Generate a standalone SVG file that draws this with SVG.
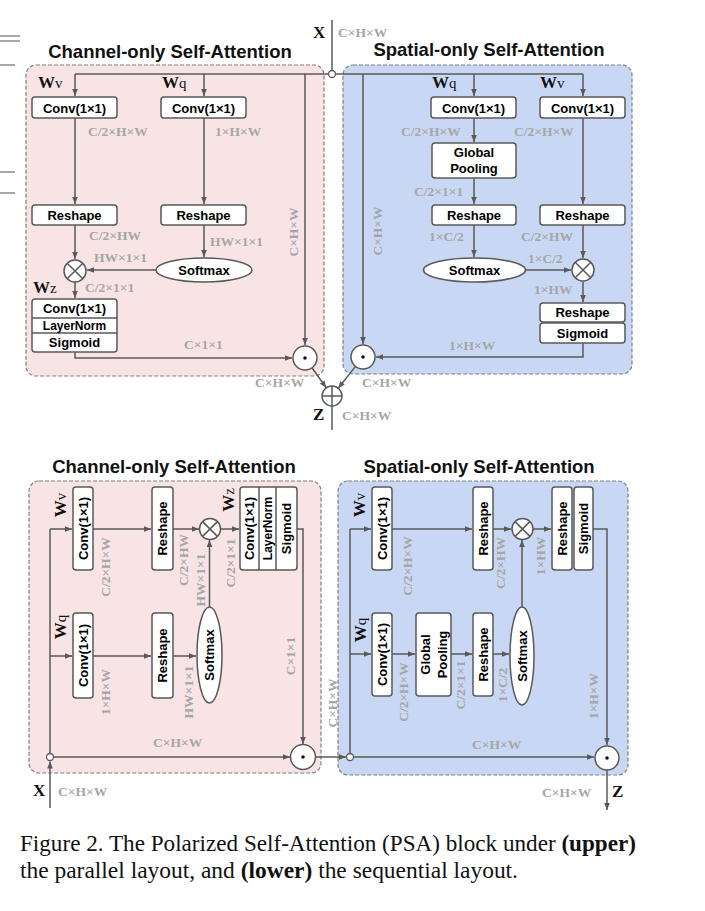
<svg xmlns="http://www.w3.org/2000/svg" width="705" height="911" viewBox="0 0 705 911">
<style>
.pp{fill:#f8e4e4;stroke:#808080;stroke-width:1.2;stroke-dasharray:4 2}
.pb{fill:#c8d8f4;stroke:#808080;stroke-width:1.2;stroke-dasharray:4 2}
.bx{fill:#fff;stroke:#595959;stroke-width:1.5}
.ln{fill:none;stroke:#595959;stroke-width:1.5}
.ar{fill:none;stroke:#595959;stroke-width:1.5;marker-end:url(#a)}
.bt{font-family:"Liberation Sans",Arial,sans-serif;font-weight:bold;font-size:13px;fill:#000;text-anchor:middle}
.sm{font-size:12px}
.lb{font-family:"Liberation Serif","Times New Roman",serif;font-weight:bold;font-size:13.5px;fill:#a6a6a6}
.lc{text-anchor:middle}
.tt{font-family:"Liberation Sans",Arial,sans-serif;font-weight:bold;font-size:18.5px;fill:#111;text-anchor:middle}
.w{font-family:"Liberation Serif","Times New Roman",serif;font-weight:bold;font-size:17px;fill:#111}
.ws{font-weight:normal;font-size:15px}
.cap{font-family:"Liberation Serif","Times New Roman",serif;font-size:23px;fill:#111}
.dot{fill:#111}
.edge{stroke:#555;stroke-width:1}
</style>
<defs>
<marker id="a" viewBox="0 0 10 10" refX="10" refY="5" markerWidth="7" markerHeight="7" markerUnits="userSpaceOnUse" orient="auto"><path d="M0,1 L10,5 L0,9z" fill="#595959"/></marker>
</defs>

<g id="page-edge">
<line class="edge" x1="0" y1="36" x2="20" y2="36"/>
<line class="edge" x1="0" y1="41" x2="20" y2="41"/>
<line class="edge" x1="0" y1="65" x2="15" y2="65"/>
<line class="edge" x1="0" y1="172" x2="15" y2="172"/>
<line class="edge" x1="0" y1="193" x2="15" y2="193"/>
</g>

<!-- ============ UPPER ============ -->
<g id="upper-panels">
<rect class="pp" x="26" y="65" width="298" height="311" rx="10"/>
<rect class="pb" x="343" y="65" width="289" height="309" rx="10"/>
<text class="tt" x="170" y="58">Channel-only Self-Attention</text>
<text class="tt" x="489" y="56">Spatial-only Self-Attention</text>
</g>

<g id="upper-connectors">
<path class="ln" d="M332,20 V70.5"/>
<path class="ln" d="M328.5,74 H75"/>
<path class="ln" d="M335.5,74 H583"/>
<path class="ar" d="M75,74 V96"/>
<path class="ar" d="M204,74 V96"/>
<path class="ar" d="M305,74 V345"/>
<path class="ar" d="M363,74 V344"/>
<path class="ar" d="M474,74 V96"/>
<path class="ar" d="M583,74 V96"/>
<path class="ar" d="M75,118 V204"/>
<path class="ar" d="M204,118 V204"/>
<path class="ar" d="M75,225 V259"/>
<path class="ar" d="M204,225 V257"/>
<path class="ar" d="M156,270 H87"/>
<path class="ar" d="M75,282 V298"/>
<path class="ar" d="M75,352 V358 H292"/>
<path class="ar" d="M474,118 V142"/>
<path class="ar" d="M474,178 V204"/>
<path class="ar" d="M583,118 V204"/>
<path class="ar" d="M474,225 V257"/>
<path class="ar" d="M526,270 H571"/>
<path class="ar" d="M583,225 V258"/>
<path class="ar" d="M583,282 V302"/>
<path class="ar" d="M583,343 V357 H376"/>
<path class="ar" d="M312,367.8 L326.2,387.8"/>
<path class="ar" d="M355.5,366.4 L338.2,388.2"/>
<path class="ln" d="M332,406 V430"/>
</g>

<g id="x-in-upper">
<circle cx="332" cy="74" r="3.5" fill="#fff" stroke="#595959" stroke-width="1.3"/>
<text class="w" x="313" y="38">X</text>
<text class="lb" x="338" y="37">C×H×W</text>
</g>

<g id="u-conv-v"><rect class="bx" x="32" y="97" width="85" height="21" rx="3"/><text class="bt" x="74.5" y="112.5">Conv(1×1)</text></g>
<g id="u-conv-q"><rect class="bx" x="161" y="97" width="85" height="21" rx="3"/><text class="bt" x="203.5" y="112.5">Conv(1×1)</text></g>
<g id="u-reshape-v"><rect class="bx" x="32" y="205" width="85" height="20" rx="3"/><text class="bt" x="74.5" y="220">Reshape</text></g>
<g id="u-reshape-q"><rect class="bx" x="161" y="205" width="85" height="20" rx="3"/><text class="bt" x="203.5" y="220">Reshape</text></g>
<g id="u-softmax-c"><ellipse class="bx" cx="204" cy="270" rx="48" ry="12"/><text class="bt" x="204" y="274.5">Softmax</text></g>
<g id="u-mul-c"><circle class="bx" cx="75" cy="271" r="11"/><path class="ln" d="M67.2,263.2 L82.8,278.8 M82.8,263.2 L67.2,278.8"/></g>
<g id="u-wz-stack">
<rect class="bx" x="32" y="299" width="85" height="53" rx="3"/>
<path class="ln" d="M32,318 H117 M32,333 H117"/>
<text class="bt" x="74.5" y="313">Conv(1×1)</text>
<text class="bt sm" x="74.5" y="329.5">LayerNorm</text>
<text class="bt" x="74.5" y="347">Sigmoid</text>
</g>
<g id="u-dot-c"><circle class="bx" cx="305" cy="358" r="12"/><circle class="dot" cx="305" cy="358" r="1.8"/></g>

<g id="u-conv-q-s"><rect class="bx" x="431" y="97" width="85" height="21" rx="3"/><text class="bt" x="473.5" y="112.5">Conv(1×1)</text></g>
<g id="u-conv-v-s"><rect class="bx" x="540" y="97" width="85" height="21" rx="3"/><text class="bt" x="582.5" y="112.5">Conv(1×1)</text></g>
<g id="u-pool"><rect class="bx" x="432" y="143" width="84" height="35" rx="3"/><text class="bt" x="474" y="157">Global</text><text class="bt" x="474" y="172.5">Pooling</text></g>
<g id="u-reshape-q-s"><rect class="bx" x="432" y="205" width="84" height="20" rx="3"/><text class="bt" x="474" y="220">Reshape</text></g>
<g id="u-reshape-v-s"><rect class="bx" x="540" y="205" width="85" height="20" rx="3"/><text class="bt" x="582.5" y="220">Reshape</text></g>
<g id="u-softmax-s"><ellipse class="bx" cx="474.5" cy="270" rx="51" ry="12"/><text class="bt" x="474.5" y="274.5">Softmax</text></g>
<g id="u-mul-s"><circle class="bx" cx="583" cy="270" r="11"/><path class="ln" d="M575.2,262.2 L590.8,277.8 M590.8,262.2 L575.2,277.8"/></g>
<g id="u-reshape-sig">
<rect class="bx" x="540" y="303" width="85" height="19" rx="3"/><text class="bt" x="582.5" y="317">Reshape</text>
<rect class="bx" x="540" y="323" width="85" height="20" rx="3"/><text class="bt" x="582.5" y="337.5">Sigmoid</text>
</g>
<g id="u-dot-s"><circle class="bx" cx="363" cy="357" r="12"/><circle class="dot" cx="363" cy="357" r="1.8"/></g>
<g id="u-add"><circle class="bx" cx="332" cy="396" r="10"/><path class="ln" d="M322,396 H342 M332,386 V406"/></g>

<g id="upper-labels">
<text class="w" x="38" y="88">W<tspan class="ws">v</tspan></text>
<text class="w" x="162" y="88">W<tspan class="ws">q</tspan></text>
<text class="w" x="33" y="293">W<tspan class="ws">z</tspan></text>
<text class="w" x="432" y="88">W<tspan class="ws">q</tspan></text>
<text class="w" x="540" y="88">W<tspan class="ws">v</tspan></text>
<text class="lb" x="88" y="136">C/2×H×W</text>
<text class="lb" x="215" y="136">1×H×W</text>
<text class="lb" x="89" y="240">C/2×HW</text>
<text class="lb" x="210" y="246">HW×1×1</text>
<text class="lb" x="94" y="262">HW×1×1</text>
<text class="lb" x="85" y="292">C/2×1×1</text>
<text class="lb" x="184" y="349">C×1×1</text>
<text class="lb lc" x="293" y="236.5" transform="rotate(-90 293 232)">C×H×W</text>
<text class="lb" x="401" y="136">C/2×H×W</text>
<text class="lb" x="514" y="136">C/2×H×W</text>
<text class="lb" x="414" y="196">C/2×1×1</text>
<text class="lb" x="429" y="241">1×C/2</text>
<text class="lb" x="521" y="241">C/2×HW</text>
<text class="lb" x="528" y="263">1×C/2</text>
<text class="lb" x="534" y="294">1×HW</text>
<text class="lb" x="449" y="350">1×H×W</text>
<text class="lb lc" x="377" y="235.5" transform="rotate(-90 377 231)">C×H×W</text>
<text class="lb" x="255" y="387">C×H×W</text>
<text class="lb" x="362" y="387">C×H×W</text>
<text class="w" x="313" y="420">Z</text>
<text class="lb" x="342" y="420">C×H×W</text>
</g>

<!-- ============ LOWER ============ -->
<g id="lower-panels">
<rect class="pp" x="29" y="481" width="292" height="292" rx="10"/>
<rect class="pb" x="338" y="481" width="290" height="294" rx="10"/>
<text class="tt" x="174" y="473">Channel-only Self-Attention</text>
<text class="tt" x="479" y="473">Spatial-only Self-Attention</text>
</g>

<g id="lower-connectors">
<path class="ar" d="M50,808 V761.5"/>
<path class="ln" d="M50,753.5 V529"/>
<path class="ar" d="M50,529 H72"/>
<path class="ar" d="M50,656 H72"/>
<path class="ar" d="M53.5,757 H290"/>
<path class="ar" d="M93,529 H151"/>
<path class="ar" d="M173,529 H199"/>
<path class="ar" d="M221,529 H239"/>
<path class="ar" d="M297,529 H303 V744"/>
<path class="ar" d="M93,656 H151"/>
<path class="ar" d="M173,656 H196"/>
<path class="ar" d="M209.5,607 V540"/>
<path class="ar" d="M315.5,757 H346"/>
<path class="ln" d="M350,753.5 V529"/>
<path class="ar" d="M350,529 H371"/>
<path class="ar" d="M350,654 H371"/>
<path class="ar" d="M392,529 H472"/>
<path class="ar" d="M493,529 H511"/>
<path class="ar" d="M533,529 H551"/>
<path class="ar" d="M593,529 H607 V745"/>
<path class="ar" d="M392,654 H415"/>
<path class="ar" d="M451,654 H472"/>
<path class="ar" d="M493,654 H509"/>
<path class="ar" d="M522,607 V540"/>
<path class="ar" d="M353.5,757 H594"/>
<path class="ar" d="M607,770 V810"/>
</g>

<g id="x-in-lower">
<circle cx="50" cy="757" r="3.5" fill="#fff" stroke="#595959" stroke-width="1.3"/>
<text class="w" x="33" y="796">X</text>
<text class="lb" x="58" y="796">C×H×W</text>
</g>

<g id="l-conv-v"><rect class="bx" x="73" y="487" width="20" height="83" rx="3"/><text class="bt" x="83" y="533" transform="rotate(-90 83 528.5)">Conv(1×1)</text></g>
<g id="l-reshape-v"><rect class="bx" x="152" y="487" width="21" height="83" rx="3"/><text class="bt" x="162.5" y="533" transform="rotate(-90 162.5 528.5)">Reshape</text></g>
<g id="l-mul-c"><circle class="bx" cx="210" cy="529" r="10.5"/><path class="ln" d="M202.6,521.6 L217.4,536.4 M217.4,521.6 L202.6,536.4"/></g>
<g id="l-wz-stack">
<rect class="bx" x="240" y="487" width="57" height="83" rx="3"/>
<path class="ln" d="M259,487 V570 M276,487 V570"/>
<text class="bt" x="249.5" y="533" transform="rotate(-90 249.5 528.5)">Conv(1×1)</text>
<text class="bt sm" x="267.5" y="532.5" transform="rotate(-90 267.5 528.5)">LayerNorm</text>
<text class="bt" x="286.5" y="533" transform="rotate(-90 286.5 528.5)">Sigmoid</text>
</g>
<g id="l-conv-q"><rect class="bx" x="73" y="613" width="20" height="85" rx="3"/><text class="bt" x="83" y="660" transform="rotate(-90 83 655.5)">Conv(1×1)</text></g>
<g id="l-reshape-q"><rect class="bx" x="152" y="613" width="21" height="85" rx="3"/><text class="bt" x="162.5" y="660" transform="rotate(-90 162.5 655.5)">Reshape</text></g>
<g id="l-softmax-c"><ellipse class="bx" cx="209.5" cy="655" rx="12.5" ry="48"/><text class="bt" x="209.5" y="659.5" transform="rotate(-90 209.5 655)">Softmax</text></g>
<g id="l-dot-c"><circle class="bx" cx="303" cy="757" r="12.5"/><circle class="dot" cx="303" cy="757" r="1.8"/></g>

<g id="l-mid"><circle cx="350" cy="757" r="3.5" fill="#fff" stroke="#595959" stroke-width="1.3"/></g>
<g id="l-conv-v-s"><rect class="bx" x="372" y="487" width="20" height="83" rx="3"/><text class="bt" x="382" y="533" transform="rotate(-90 382 528.5)">Conv(1×1)</text></g>
<g id="l-reshape-v-s"><rect class="bx" x="473" y="487" width="20" height="83" rx="3"/><text class="bt" x="483" y="533" transform="rotate(-90 483 528.5)">Reshape</text></g>
<g id="l-mul-s"><circle class="bx" cx="522.5" cy="529" r="10.5"/><path class="ln" d="M515.1,521.6 L529.9,536.4 M529.9,521.6 L515.1,536.4"/></g>
<g id="l-reshape-sig">
<rect class="bx" x="552" y="487" width="20" height="83" rx="3"/><text class="bt" x="562" y="533" transform="rotate(-90 562 528.5)">Reshape</text>
<rect class="bx" x="574" y="487" width="19" height="83" rx="3"/><text class="bt" x="583.5" y="533" transform="rotate(-90 583.5 528.5)">Sigmoid</text>
</g>
<g id="l-conv-q-s"><rect class="bx" x="372" y="613" width="20" height="83" rx="3"/><text class="bt" x="382" y="659" transform="rotate(-90 382 654.5)">Conv(1×1)</text></g>
<g id="l-pool"><rect class="bx" x="416" y="613" width="35" height="83" rx="3"/>
<text class="bt" x="433.5" y="651" transform="rotate(-90 433.5 654.5)">Global</text>
<text class="bt" x="433.5" y="668" transform="rotate(-90 433.5 654.5)">Pooling</text></g>
<g id="l-reshape-q-s"><rect class="bx" x="473" y="613" width="20" height="83" rx="3"/><text class="bt" x="483" y="659" transform="rotate(-90 483 654.5)">Reshape</text></g>
<g id="l-softmax-s"><ellipse class="bx" cx="522" cy="656" rx="12" ry="49"/><text class="bt" x="522" y="660.5" transform="rotate(-90 522 656)">Softmax</text></g>
<g id="l-dot-s"><circle class="bx" cx="607" cy="758" r="12"/><circle class="dot" cx="607" cy="758" r="1.8"/></g>

<g id="lower-labels">
<text class="w lc" x="61" y="510" transform="rotate(-90 61 505)">W<tspan class="ws">v</tspan></text>
<text class="w lc" x="61" y="632" transform="rotate(-90 61 627)">W<tspan class="ws">q</tspan></text>
<text class="w lc" x="229" y="505" transform="rotate(-90 229 500)">W<tspan class="ws">z</tspan></text>
<text class="w lc" x="360" y="510" transform="rotate(-90 360 505)">W<tspan class="ws">v</tspan></text>
<text class="w lc" x="361" y="635" transform="rotate(-90 361 630)">W<tspan class="ws">q</tspan></text>
<text class="lb lc" x="105" y="571.5" transform="rotate(-90 105 567)">C/2×H×W</text>
<text class="lb lc" x="183" y="564.5" transform="rotate(-90 183 560)">C/2×HW</text>
<text class="lb lc" x="200" y="584.5" transform="rotate(-90 200 580)">HW×1×1</text>
<text class="lb lc" x="230" y="567.5" transform="rotate(-90 230 563)">C/2×1×1</text>
<text class="lb lc" x="105" y="696.5" transform="rotate(-90 105 692)">1×H×W</text>
<text class="lb lc" x="188" y="696.5" transform="rotate(-90 188 692)">HW×1×1</text>
<text class="lb lc" x="290" y="660.5" transform="rotate(-90 290 656)">C×1×1</text>
<text class="lb" x="153" y="747">C×H×W</text>
<text class="lb lc" x="332" y="707.5" transform="rotate(-90 332 703)">C×H×W</text>
<text class="lb lc" x="407" y="570.5" transform="rotate(-90 407 566)">C/2×H×W</text>
<text class="lb lc" x="500" y="567.5" transform="rotate(-90 500 563)">C/2×HW</text>
<text class="lb lc" x="540" y="560.5" transform="rotate(-90 540 556)">1×HW</text>
<text class="lb lc" x="403" y="696.5" transform="rotate(-90 403 692)">C/2×H×W</text>
<text class="lb lc" x="460" y="689.5" transform="rotate(-90 460 685)">C/2×1×1</text>
<text class="lb lc" x="502" y="689.5" transform="rotate(-90 502 685)">1×C/2</text>
<text class="lb lc" x="593" y="700.5" transform="rotate(-90 593 696)">1×H×W</text>
<text class="lb" x="472" y="749">C×H×W</text>
<text class="lb" x="542" y="797">C×H×W</text>
<text class="w" x="612" y="797">Z</text>
</g>

<g id="caption">
<text class="cap" x="20" y="851" textLength="616" lengthAdjust="spacingAndGlyphs">Figure 2. The Polarized Self-Attention (PSA) block under <tspan font-weight="bold">(upper)</tspan></text>
<text class="cap" x="20" y="878" textLength="498" lengthAdjust="spacingAndGlyphs">the parallel layout, and <tspan font-weight="bold">(lower)</tspan> the sequential layout.</text>
</g>
</svg>
